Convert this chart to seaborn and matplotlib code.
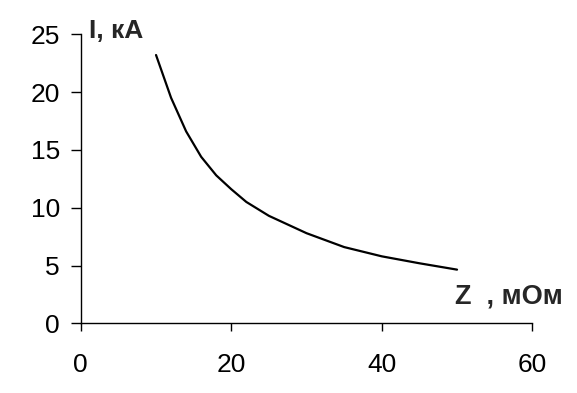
import pandas as pd
import seaborn as sns
from matplotlib import pyplot as plt

# Z, mOhm -> I, kA
z_mom = [10, 12, 14, 15, 16, 18, 20, 22, 25, 30, 35, 40, 45, 50]
i_ka = [23.2, 19.5, 16.6, 15.5, 14.4, 12.8, 11.6, 10.5, 9.3, 7.8, 6.6, 5.8, 5.2, 4.65]

x_ticks = [0, 20, 40, 60]
y_ticks = [0, 5, 10, 15, 20, 25]

df = pd.DataFrame({"Z": z_mom, "I": i_ka})

sns.set_style("ticks")
plt.rcParams['font.family'] = ['Liberation Sans', 'DejaVu Sans']

fig = plt.figure(figsize=(5.77, 3.93), dpi=100)
ax = fig.add_axes([0.14, 0.177, 0.7825, 0.736])

sns.lineplot(x="Z", y="I", data=df, color="black", linewidth=1.6, ax=ax)

ax.set_xlim(0, 60)
ax.set_ylim(0, 25)
ax.set_xticks(x_ticks)
ax.set_yticks(y_ticks)
ax.set_xlabel("")
ax.set_ylabel("")

sns.despine(ax=ax)
for s in ["left", "bottom"]:
    ax.spines[s].set_linewidth(1.0)
    ax.spines[s].set_color("black")

ax.tick_params(axis="x", length=6, width=1.0, pad=15, labelsize=19, colors="black")
ax.tick_params(axis="y", length=7, width=1.0, pad=8, labelsize=19, colors="black")

fig.text(89 / 577, 1 - 31 / 393, "I, кА", fontsize=19, fontweight="bold",
         va="center", ha="left")
fig.text(455 / 577, 1 - 296 / 393, "Z  , мОм", fontsize=19.5, fontweight="bold",
         va="center", ha="left")

fig.savefig("out.png", dpi=100)
